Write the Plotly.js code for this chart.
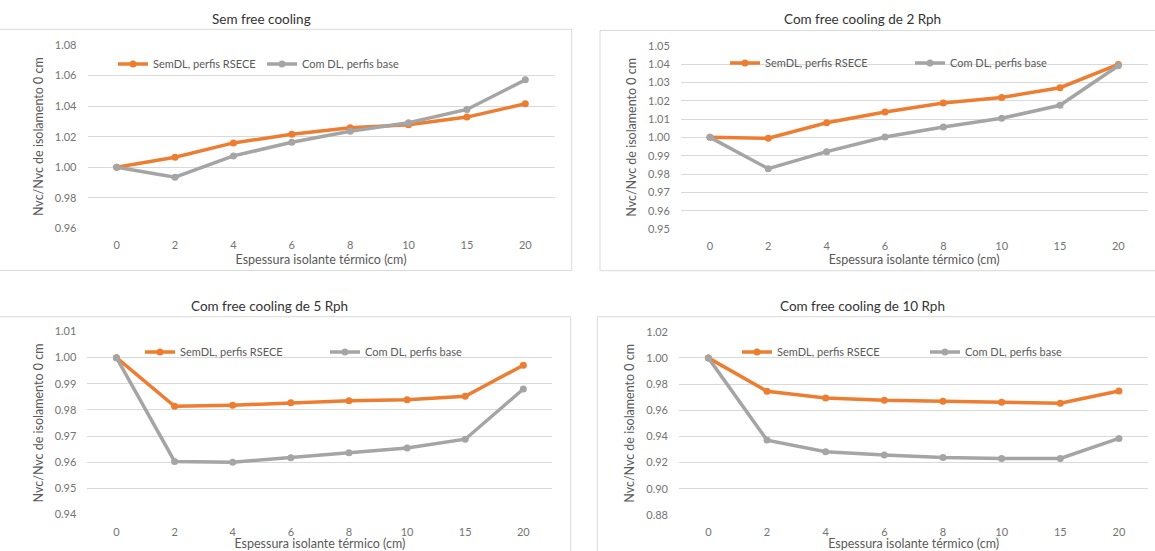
<!DOCTYPE html>
<html>
<head>
<meta charset="utf-8">
<script src="https://cdn.plot.ly/plotly-3.0.1.min.js"></script>
<style>
html,body{margin:0;padding:0;background:#fff;}
#chart{width:1155px;height:551px;}
</style>
</head>
<body>
<div id="chart"></div>
<script>
// ---- data ----
const thickness = ['0', '2', '4', '6', '8', '10', '15', '20'];
const seriesNames = ['SemDL, perfis RSECE', 'Com DL, perfis base'];
const panelTitles = ['Sem free cooling', 'Com free cooling de 2 Rph', 'Com free cooling de 5 Rph', 'Com free cooling de 10 Rph'];
const xTitle = 'Espessura isolante térmico (cm)';
const yTitle = 'Nvc/Nvc de isolamento 0 cm';

const semFree_sem = [1.000, 1.0065, 1.0159, 1.0215, 1.0259, 1.0278, 1.0328, 1.0415];
const semFree_com = [1.000, 0.9935, 1.0074, 1.0163, 1.0235, 1.0291, 1.0378, 1.0572];
const fc2_sem = [1.000, 0.9995, 1.0080, 1.0138, 1.0187, 1.0218, 1.0271, 1.0398];
const fc2_com = [1.000, 0.9829, 0.9922, 1.0002, 1.0056, 1.0104, 1.0175, 1.0391];
const fc5_sem = [1.000, 0.9814, 0.9818, 0.9827, 0.9835, 0.9839, 0.9852, 0.9971];
const fc5_com = [1.000, 0.9603, 0.9600, 0.9617, 0.9636, 0.9654, 0.9688, 0.9880];
const fc10_sem = [1.000, 0.9745, 0.9694, 0.9676, 0.9668, 0.9661, 0.9653, 0.9747];
const fc10_com = [1.000, 0.9372, 0.9283, 0.9258, 0.9240, 0.9232, 0.9232, 0.9385];

const yRanges = [[0.96, 1.08], [0.95, 1.05], [0.94, 1.01], [0.88, 1.02]];
const yDticks = [0.02, 0.01, 0.01, 0.02];

// ---- styling / layout ----
const W = 1155, H = 551;
const px = v => v / W;
const py = v => 1 - v / H;
const ORANGE = '#ED7D31', GRAY = '#A5A5A5';
const FONT = 'Lato, "Open Sans", sans-serif';

const panelData = [[semFree_sem, semFree_com], [fc2_sem, fc2_com], [fc5_sem, fc5_com], [fc10_sem, fc10_com]];
// plot area boxes in pixels: [left, right, top, bottom]
const boxes = [[87.5, 554.5, 45, 228.3], [680.8, 1147.5, 45.7, 229], [87.4, 552.4, 331.5, 514.5], [679, 1148.3, 331.7, 515]];
const titlePos = [[261, 19], [862, 19], [269, 305.5], [862, 305.5]];
const legendPos = [[113, 64], [725, 63], [140, 352], [737, 352]];
const legendEntry = [104, 140, 140, 143];
const frames = [[-3, 571.7, 29.3, 270.5], [600, 1160, 30.5, 270.7], [-3, 570.7, 316.7, 560], [597.3, 1160, 316.7, 560]];

const traces = [];
const layout = {
  width: W, height: H,
  margin: {l: 0, r: 0, t: 0, b: 0},
  paper_bgcolor: '#fff', plot_bgcolor: 'rgba(0,0,0,0)',
  font: {family: FONT, color: '#595959', size: 11},
  showlegend: true,
  annotations: [], shapes: []
};

panelData.forEach((pair, i) => {
  const n = i + 1;
  const xa = 'x' + (n === 1 ? '' : n), ya = 'y' + (n === 1 ? '' : n);
  const legendKey = 'legend' + (n === 1 ? '' : n);
  [ORANGE, GRAY].forEach((col, k) => {
    traces.push({
      type: 'scatter', mode: 'lines+markers',
      x: thickness, y: pair[k], name: seriesNames[k],
      xaxis: xa, yaxis: ya, legend: legendKey,
      line: {color: col, width: 3.5},
      marker: {color: col, size: 7, symbol: 'circle'},
      hoverinfo: 'x+y'
    });
  });
  const b = boxes[i];
  layout['xaxis' + (n === 1 ? '' : n)] = {
    type: 'category', domain: [px(b[0]), px(b[1])], anchor: ya,
    range: [-0.5, thickness.length - 0.5],
    showgrid: false, zeroline: false, showline: false, ticks: '',
    ticklabelstandoff: 9,
    tickfont: {family: FONT, size: 11, color: '#737373'},
    title: {text: xTitle, font: {family: FONT, size: 12.5, color: '#595959'}, standoff: 4}
  };
  layout['yaxis' + (n === 1 ? '' : n)] = {
    domain: [py(b[3]), py(b[2])], anchor: xa,
    range: yRanges[i], dtick: yDticks[i], tick0: yRanges[i][0], tickformat: '.2f',
    showgrid: true, gridcolor: '#D9D9D9', gridwidth: 1,
    zeroline: false, showline: false, ticks: '',
    ticklabelstandoff: 10,
    tickfont: {family: FONT, size: 11, color: '#737373'},
    title: {text: yTitle, font: {family: FONT, size: 12.5, color: '#595959'}, standoff: 8}
  };
  layout[legendKey] = {
    orientation: 'h', x: px(legendPos[i][0]), y: py(legendPos[i][1]),
    xanchor: 'left', yanchor: 'middle',
    bgcolor: 'rgba(0,0,0,0)', itemwidth: 30, entrywidth: legendEntry[i],
    font: {family: FONT, size: 11, color: '#595959'},
    traceorder: 'normal'
  };
  layout.annotations.push({
    text: panelTitles[i], xref: 'paper', yref: 'paper',
    x: px(titlePos[i][0]), y: py(titlePos[i][1]), xanchor: 'center', yanchor: 'middle',
    showarrow: false, font: {family: FONT, size: 13.5, color: '#333333', weight: 400}
  });
  const f = frames[i];
  layout.shapes.push({
    type: 'rect', xref: 'paper', yref: 'paper',
    x0: px(f[0]), x1: px(f[1]), y0: py(f[3]), y1: py(f[2]),
    line: {color: '#D9D9D9', width: 1}, fillcolor: 'rgba(0,0,0,0)', layer: 'below'
  });
});

Plotly.newPlot('chart', traces, layout, {displayModeBar: false, staticPlot: true});
</script>
</body>
</html>
